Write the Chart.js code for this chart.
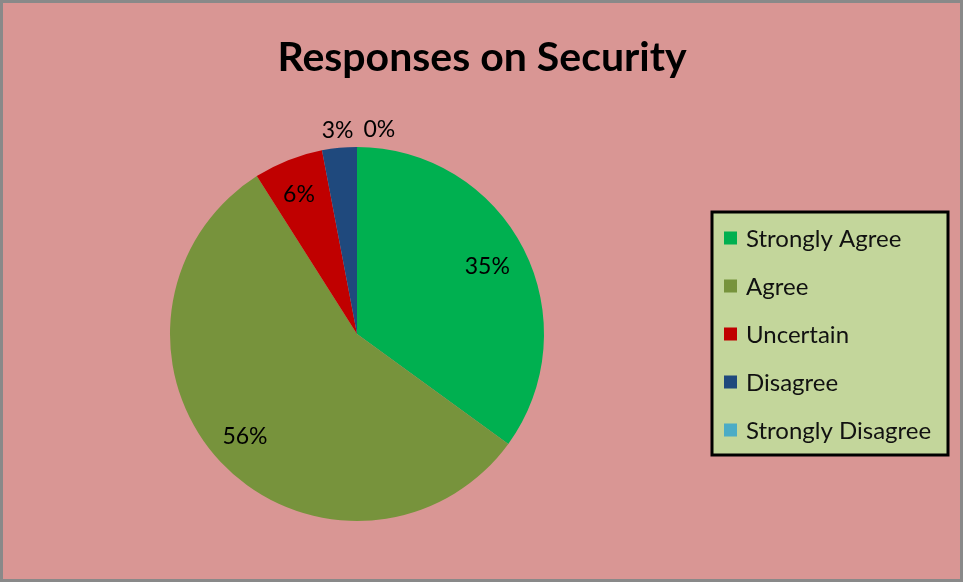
<!DOCTYPE html>
<html>
<head>
<meta charset="utf-8">
<title>Responses on Security</title>
<script src="https://cdn.jsdelivr.net/npm/chart.js@4.4.0/dist/chart.umd.min.js"></script>
<style>
  html, body { margin: 0; padding: 0; background: #fff; }
  #wrap { width: 963px; height: 582px; position: relative; }
</style>
</head>
<body>
<div id="wrap"><canvas id="securityChart"></canvas></div>
<script>
// survey data
const categories = ['Strongly Agree', 'Agree', 'Uncertain', 'Disagree', 'Strongly Disagree'];
const percentages = [35, 56, 6, 3, 0];
const sliceColors = ['#00B050', '#77933C', '#C00000', '#1F497D', '#4BACC6'];
const chartTitle = 'Responses on Security';

const FONT = "Lato, 'Open Sans', sans-serif";

// background + outer frame + title
const framePlugin = {
    id: 'frame',
    beforeDraw(chart) {
        const ctx = chart.ctx;
        const w = chart.width, h = chart.height;
        ctx.save();
        ctx.fillStyle = '#D99694';
        ctx.fillRect(0, 0, w, h);
        ctx.strokeStyle = '#898989';
        ctx.lineWidth = 3;
        ctx.strokeRect(1.5, 1.5, w - 3, h - 3);

        ctx.fillStyle = '#000';
        ctx.font = 'bold 41px ' + FONT;
        ctx.textAlign = 'center';
        ctx.textBaseline = 'alphabetic';
        ctx.fillText(chartTitle, 482, 71);
        ctx.restore();
    }
};

// percentage labels: inside for big slices, outside for small ones
const sliceLabels = {
    id: 'sliceLabels',
    afterDatasetsDraw(chart) {
        const ctx = chart.ctx;
        const meta = chart.getDatasetMeta(0);
        const data = chart.data.datasets[0].data;
        ctx.save();
        ctx.font = '23px ' + FONT;
        ctx.fillStyle = '#000';
        ctx.textBaseline = 'middle';
        ctx.textAlign = 'center';
        let prevRight = null;
        meta.data.forEach((arc, i) => {
            const p = arc.getProps(['x', 'y', 'startAngle', 'endAngle', 'outerRadius'], true);
            const mid = (p.startAngle + p.endAngle) / 2;
            const txt = data[i] + '%';
            const tw = ctx.measureText(txt).width;
            if (data[i] >= 5) {
                const d = p.outerRadius * 0.8;
                ctx.fillText(txt, p.x + Math.cos(mid) * d - 3, p.y + Math.sin(mid) * d);
            } else {
                const d = p.outerRadius + 19;
                let cx = p.x + Math.cos(mid) * d;
                const cy = p.y + Math.sin(mid) * d;
                // keep neighbouring outside labels from overlapping
                if (prevRight !== null && cx - tw / 2 < prevRight + 10) {
                    cx = prevRight + 10 + tw / 2;
                }
                ctx.fillText(txt, cx, cy + 2);
                prevRight = cx + tw / 2;
            }
        });
        ctx.restore();
    }
};

// boxed legend on the right
const boxLegend = {
    id: 'boxLegend',
    afterDraw(chart) {
        const ctx = chart.ctx;
        const x = 712, y = 212, w = 236, h = 243;
        const colors = chart.data.datasets[0].backgroundColor;
        ctx.save();
        ctx.fillStyle = '#C3D69B';
        ctx.fillRect(x, y, w, h);
        ctx.strokeStyle = '#000';
        ctx.lineWidth = 3;
        ctx.strokeRect(x, y, w, h);
        ctx.font = '24px ' + FONT;
        ctx.textBaseline = 'middle';
        ctx.textAlign = 'left';
        chart.data.labels.forEach((label, i) => {
            const cy = 238 + i * 48;
            ctx.fillStyle = colors[i];
            ctx.fillRect(724, cy - 6.5, 13, 13);
            ctx.fillStyle = '#111';
            ctx.fillText(label, 746, cy + 1);
        });
        ctx.restore();
    }
};

new Chart(document.getElementById('securityChart'), {
    type: 'pie',
    data: {
        labels: categories,
        datasets: [{
            data: percentages,
            backgroundColor: sliceColors,
            borderWidth: 0
        }]
    },
    options: {
        responsive: true,
        maintainAspectRatio: false,
        animation: false,
        layout: {
            padding: { left: 170, right: 419, top: 147, bottom: 61 }
        },
        plugins: {
            legend: { display: false },
            tooltip: { enabled: false }
        }
    },
    plugins: [framePlugin, sliceLabels, boxLegend]
});
</script>
</body>
</html>
